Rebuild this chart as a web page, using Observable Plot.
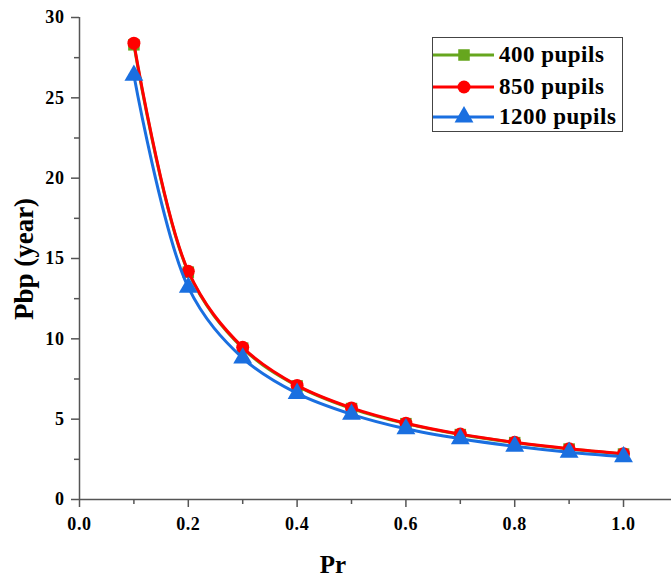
<!DOCTYPE html>
<html>
<head>
<meta charset="utf-8">
<script src="https://cdn.jsdelivr.net/npm/d3@7"></script>
<script src="https://cdn.jsdelivr.net/npm/@observablehq/plot@0.6"></script>
<style>
  body { margin: 0; background: #fff; }
  #wrap { position: relative; width: 671px; height: 577px; font-family: "Liberation Serif", "Times New Roman", serif; }
  #legend { position: absolute; left: 432px; top: 37px; width: 191px; height: 95px; border: 1.5px solid #444; background: #fff; box-sizing: border-box; }
  .row { position: absolute; left: 0; height: 30px; display: flex; align-items: center; }
  .row span { font-weight: bold; font-size: 23px; letter-spacing: 0.5px; color: #000; margin-left: 4px; }
</style>
</head>
<body>
<div id="wrap">
  <div id="chart"></div>
  <div id="legend"></div>
</div>
<script>
const pr = [0.1, 0.2, 0.3, 0.4, 0.5, 0.6, 0.7, 0.8, 0.9, 1.0];
const pbp400 = [28.3, 14.15, 9.42, 7.07, 5.66, 4.72, 4.04, 3.54, 3.14, 2.83];
const pbp850 = [28.4, 14.2, 9.47, 7.1, 5.7, 4.75, 4.07, 3.56, 3.16, 2.85];
const pbp1200 = [26.4, 13.2, 8.8, 6.6, 5.3, 4.4, 3.78, 3.31, 2.94, 2.66];
const seriesNames = ["400 pupils", "850 pupils", "1200 pupils"];
const seriesColors = ["#66a61e", "#ff0000", "#1a6fe0"];
const seriesSymbols = ["square", "circle", "triangle"];
const xTicks = [0, 0.2, 0.4, 0.6, 0.8, 1.0];
const xMinor = [0.1, 0.3, 0.5, 0.7, 0.9];
const yTicks = [0, 5, 10, 15, 20, 25, 30];
const yMinor = [2.5, 7.5, 12.5, 17.5, 22.5, 27.5];

const allSeries = [pbp400, pbp850, pbp1200];
const rows = [];
allSeries.forEach((vals, i) => vals.forEach((v, j) => rows.push({series: seriesNames[i], x: pr[j], y: v})));

const marks = [];
seriesNames.forEach((name, i) => {
  const d = rows.filter(r => r.series === name);
  marks.push(Plot.line(d, {x: "x", y: "y", stroke: seriesColors[i], strokeWidth: 3, curve: "catmull-rom"}));
  marks.push(Plot.dot(d, {x: "x", y: "y", fill: seriesColors[i], stroke: "none", symbol: seriesSymbols[i], r: i === 2 ? 7 : 6.5}));
});

const axisColor = "#555";
const chart = Plot.plot({
  width: 671,
  height: 577,
  marginLeft: 79,
  marginRight: 0,
  marginTop: 17,
  marginBottom: 78,
  style: {fontFamily: "'Liberation Serif', 'Times New Roman', serif", fontWeight: "bold", fontSize: "18px", color: "#000", background: "#fff"},
  x: {domain: [0, 1.0882]},
  y: {domain: [0, 30]},
  marks: [
    Plot.axisX({ticks: xTicks, tickSize: 8, tickPadding: 10, tickFormat: d3.format(".1f"), stroke: axisColor, strokeWidth: 1.5, fill: "#000", fontSize: 18, label: null}),
    Plot.axisX({ticks: xMinor, tickSize: 5, text: null, stroke: axisColor, strokeWidth: 1.5, label: null}),
    Plot.axisY({ticks: yTicks, tickSize: 8, tickPadding: 7, stroke: axisColor, strokeWidth: 1.5, fill: "#000", fontSize: 18, label: null}),
    Plot.axisY({ticks: yMinor, tickSize: 5, text: null, stroke: axisColor, strokeWidth: 1.5, label: null}),
    Plot.ruleY([0], {stroke: axisColor, strokeWidth: 1.5}),
    Plot.ruleX([0], {stroke: axisColor, strokeWidth: 1.5}),
    ...marks
  ]
});
document.getElementById("chart").appendChild(chart);

const svg = d3.select(chart);
svg.selectAll("text")
  .attr("font-size", 18)
  .style("font-size", "18px").style("font-weight", "bold").style("letter-spacing", "0.6px")
  .style("font-family", "'Liberation Serif', serif");
svg.selectAll("g").filter(function() { return this.getAttribute("font-size"); }).attr("font-size", 18);

// axis titles
svg.append("text").attr("x", 333).attr("y", 573).attr("text-anchor", "middle")
  .style("font-family", "'Liberation Serif', serif").style("font-weight", "bold").style("font-size", "25px").text("Pr");
svg.append("text").attr("transform", "translate(33,259) rotate(-90)").attr("text-anchor", "middle")
  .style("font-family", "'Liberation Serif', serif").style("font-weight", "bold").style("font-size", "27px").text("Pbp (year)");

// legend
const legend = document.getElementById("legend");
const rowTops = [2, 34, 64];
seriesNames.forEach((name, i) => {
  const row = document.createElement("div");
  row.className = "row";
  row.style.top = rowTops[i] + "px";
  const s = d3.create("svg").attr("width", 62).attr("height", 30);
  s.append("line").attr("x1", 0).attr("x2", 61).attr("y1", 15).attr("y2", 15).attr("stroke", seriesColors[i]).attr("stroke-width", 3);
  const sym = {square: d3.symbolSquare, circle: d3.symbolCircle, triangle: d3.symbolTriangle}[seriesSymbols[i]];
  const rr = i === 2 ? 7 : 6.5;
  s.append("path").attr("transform", "translate(31,15)").attr("d", d3.symbol(sym, Math.PI * rr * rr)()).attr("fill", seriesColors[i]);
  row.appendChild(s.node());
  const t = document.createElement("span");
  t.textContent = name;
  row.appendChild(t);
  legend.appendChild(row);
});
</script>
</body>
</html>
